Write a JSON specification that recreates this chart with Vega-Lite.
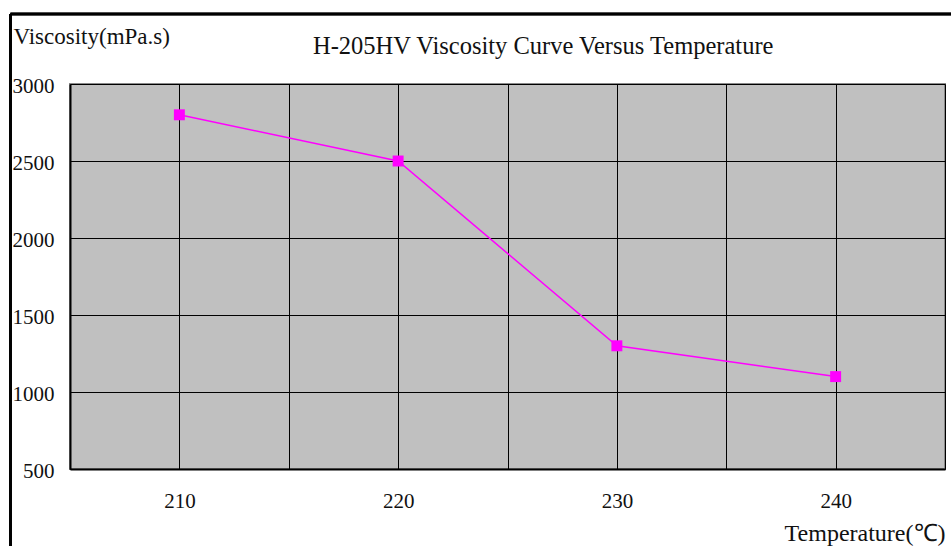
{
  "$schema": "https://vega.github.io/schema/vega-lite/v6.json",
  "width": 875,
  "height": 385,
  "autosize": {"type": "none"},
  "padding": {"left": 70, "top": 84, "right": 6, "bottom": 77},
  "background": "white",
  "config": {
    "font": "Liberation Serif",
    "view": {"fill": "#c0c0c0", "stroke": "#8a8a8a", "strokeWidth": 2}
  },
  "title": {
    "text": "H-205HV Viscosity Curve Versus Temperature",
    "anchor": "start",
    "frame": "group",
    "dx": 243,
    "dy": 66,
    "offset": 0,
    "baseline": "alphabetic",
    "fontSize": 24.5,
    "fontWeight": "normal",
    "color": "#111111",
    "font": "Liberation Serif"
  },
  "data": {
    "values": [
      {"temperature": 210, "viscosity": 2800},
      {"temperature": 220, "viscosity": 2500},
      {"temperature": 230, "viscosity": 1300},
      {"temperature": 240, "viscosity": 1100}
    ]
  },
  "encoding": {
    "x": {
      "field": "temperature",
      "type": "quantitative",
      "scale": {"domain": [205, 245], "nice": false, "zero": false},
      "axis": {
        "title": "Temperature(℃)",
        "values": [205, 210, 215, 220, 225, 230, 235, 240, 245],
        "format": "d",
        "labelExpr": "datum.value % 10 == 0 ? datum.label : ''",
        "grid": true,
        "gridColor": "#000000",
        "gridWidth": 1,
        "gridOpacity": 1,
        "domainColor": "#000000",
        "domainWidth": 2,
        "ticks": false,
        "tickSize": 0,
        "labelPadding": 32,
        "labelBaseline": "middle",
        "labelFontSize": 21,
        "labelColor": "#111111",
        "labelFont": "Liberation Serif",
        "titleFont": "Liberation Serif",
        "titleFontSize": 24,
        "titleFontWeight": "normal",
        "titleColor": "#111111",
        "titleAnchor": "end",
        "titleAlign": "right",
        "titleBaseline": "middle",
        "titleX": 875,
        "titleY": 64
      }
    },
    "y": {
      "field": "viscosity",
      "type": "quantitative",
      "scale": {"domain": [500, 3000], "nice": false, "zero": false},
      "axis": {
        "title": "Viscosity(mPa.s)",
        "values": [500, 1000, 1500, 2000, 2500, 3000],
        "format": "d",
        "grid": true,
        "gridColor": "#000000",
        "gridWidth": 1,
        "gridOpacity": 1,
        "domainColor": "#000000",
        "domainWidth": 2,
        "ticks": false,
        "tickSize": 0,
        "labelPadding": 16,
        "labelAlign": "right",
        "labelBaseline": "middle",
        "labelOffset": 2,
        "labelFontSize": 21,
        "labelColor": "#111111",
        "labelFont": "Liberation Serif",
        "titleFont": "Liberation Serif",
        "titleFontSize": 23,
        "titleFontWeight": "normal",
        "titleColor": "#111111",
        "titleAngle": 0,
        "titleAlign": "left",
        "titleBaseline": "middle",
        "titleX": -57,
        "titleY": -48
      }
    }
  },
  "layer": [
    {
      "mark": {"type": "line", "color": "#ff00ff", "strokeWidth": 1.5}
    },
    {
      "mark": {"type": "point", "shape": "square", "filled": true, "color": "#ff00ff", "size": 120, "opacity": 1}
    },
    {
      "mark": {"type": "rule", "color": "#000000", "strokeWidth": 2.5, "clip": false},
      "encoding": {
        "x": {"datum": 202.28, "type": "quantitative"},
        "y": {"datum": 3455, "type": "quantitative"},
        "y2": {"datum": -200}
      }
    },
    {
      "mark": {"type": "rule", "color": "#000000", "strokeWidth": 2.5, "clip": false},
      "encoding": {
        "x": {"datum": 202.28, "type": "quantitative"},
        "x2": {"datum": 250},
        "y": {"datum": 3455, "type": "quantitative"}
      }
    }
  ]
}
